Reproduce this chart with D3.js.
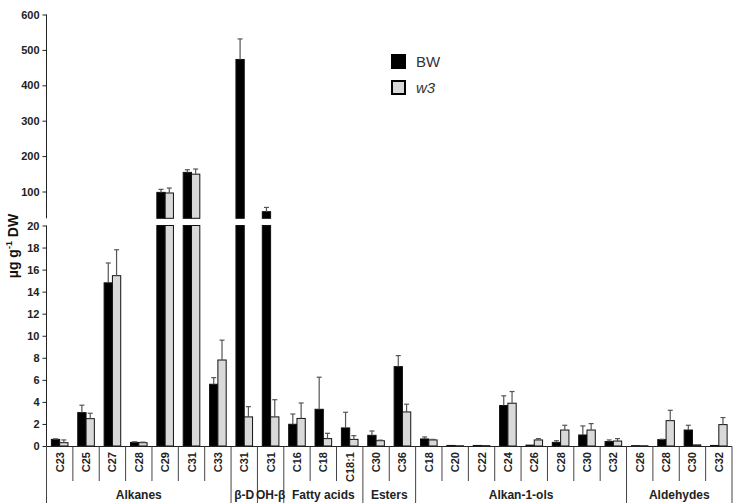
<!DOCTYPE html>
<html><head><meta charset="utf-8">
<script src="https://cdn.jsdelivr.net/npm/d3@7"></script>
<style>body{margin:0;background:#fff}svg{display:block;font-family:"Liberation Sans",Arial,sans-serif}</style>
</head><body><div id="chart"></div>
<script>
// ---- data ----
const categories = ["C23","C25","C27","C28","C29","C31","C33","C31","C31","C16","C18","C18:1","C30","C36","C18","C20","C22","C24","C26","C28","C30","C32","C26","C28","C30","C32"];
const groupNames = ["Alkanes","β-D","OH-β","Fatty acids","Esters","Alkan-1-ols","Aldehydes"];
const groupSizes = [7,1,1,3,2,8,4];
const bwValues = [0.6,3.03,14.8,0.33,97.5,154,5.6,473,43,1.97,3.33,1.64,0.97,7.2,0.64,0.05,0.05,3.67,0.08,0.33,1.0,0.4,0.03,0.58,1.45,0.05];
const bwErr    = [0.05,0.67,1.8,0.05,8.5,7.5,0.6,58,12,0.93,2.91,1.42,0.39,1.0,0.18,0,0,0.88,0,0.15,0.82,0.15,0,0.03,0.43,0];
const w3Values = [0.3,2.48,15.45,0.3,95.8,149,7.8,2.64,2.64,2.5,0.67,0.6,0.48,3.09,0.55,0.02,0.03,3.88,0.55,1.45,1.45,0.45,0.02,2.3,0.1,1.94];
const w3Err    = [0.25,0.49,2.35,0.05,14,14.5,1.8,0.93,1.56,1.4,0.48,0.34,0.05,0.7,0.05,0,0,1.06,0.12,0.43,0.58,0.22,0,0.94,0,0.64];
const seriesNames = ["BW","w3"];
const lowTicks = [0,2,4,6,8,10,12,14,16,18,20];
const highTicks = [100,200,300,400,500,600];

const W = 741, H = 504;
const svg = d3.select("#chart").append("svg").attr("width", W).attr("height", H);

const x = d3.scaleBand().domain(d3.range(categories.length)).range([46.5, 732]).padding(0);
const yLow = d3.scaleLinear().domain([0, 20]).range([446, 225.5]);
const yHigh = d3.scaleLinear().domain([0, 600]).range([226.9, 14.5]);
const highBottom = 218.3;
const bw = x.bandwidth() * 0.315;

// axes
const gLow = svg.append("g").attr("transform", "translate(46.5,0)")
  .call(d3.axisLeft(yLow).tickValues(lowTicks).tickSize(4).tickPadding(3));
const gHigh = svg.append("g").attr("transform", "translate(46.5,0)")
  .call(d3.axisLeft(yHigh).tickValues(highTicks).tickSize(4).tickPadding(3));
gHigh.select(".domain").attr("d", `M0,${yHigh(600)}V${highBottom}`);
gLow.select(".domain").attr("d", `M0,${yLow(20)}V${yLow(0)}`);
[gLow, gHigh].forEach(g => {
  g.selectAll(".domain").attr("stroke", "#222");
  g.selectAll(".tick line").attr("stroke", "#222");
  g.selectAll(".tick text").attr("font-size", 11).attr("font-weight", "bold").attr("fill", "#222");
});

function drawBar(i, v, e, xPos, fill) {
  const g = svg.append("g");
  if (v <= 20) {
    g.append("rect").attr("x", xPos).attr("width", bw).attr("y", yLow(v)).attr("height", yLow(0) - yLow(v))
      .attr("fill", fill).attr("stroke", "#111").attr("stroke-width", 1);
  } else {
    g.append("rect").attr("x", xPos).attr("width", bw).attr("y", yLow(20)).attr("height", yLow(0) - yLow(20))
      .attr("fill", fill).attr("stroke", "#111").attr("stroke-width", 1);
    g.append("rect").attr("x", xPos).attr("width", bw).attr("y", yHigh(v)).attr("height", highBottom - yHigh(v))
      .attr("fill", fill).attr("stroke", "#111").attr("stroke-width", 1);
  }
  if (e > 0.02) {
    const sc = v + e <= 20 ? yLow : yHigh;
    const y0 = v <= 20 ? yLow(v) : yHigh(v);
    const y1 = sc(v + e);
    const cx = xPos + bw / 2;
    g.append("line").attr("x1", cx).attr("x2", cx).attr("y1", y0).attr("y2", y1).attr("stroke", "#555").attr("stroke-width", 1.2);
    g.append("line").attr("x1", cx - 2.5).attr("x2", cx + 2.5).attr("y1", y1).attr("y2", y1).attr("stroke", "#555").attr("stroke-width", 1.2);
  }
}

categories.forEach((c, i) => {
  const cx = x(i) + x.bandwidth() / 2;
  drawBar(i, bwValues[i], bwErr[i], cx - bw, "#000");
  drawBar(i, w3Values[i], w3Err[i], cx, "#d9d9d9");
});

// x axis baseline
svg.append("line").attr("x1", 46.5).attr("x2", 732).attr("y1", 446.5).attr("y2", 446.5).attr("stroke", "#222");

// category separators & labels
const groupEnds = [];
let acc = 0; groupSizes.forEach(s => { acc += s; groupEnds.push(acc); });
for (let i = 0; i <= categories.length; i++) {
  const xx = i < categories.length ? x(i) : x(categories.length - 1) + x.bandwidth();
  const isGroup = i === 0 || groupEnds.includes(i);
  svg.append("line").attr("x1", xx).attr("x2", xx).attr("y1", 446.5).attr("y2", isGroup ? 503 : 481)
    .attr("stroke", "#444").attr("stroke-width", 1);
}
categories.forEach((c, i) => {
  const cx = x(i) + x.bandwidth() / 2 + 4;
  svg.append("text").attr("transform", `translate(${cx},452) rotate(-90)`)
    .attr("text-anchor", "end").attr("font-size", 11).attr("font-weight", "bold").attr("fill", "#222").text(c);
});
let start = 0;
groupNames.forEach((g, k) => {
  const end = start + groupSizes[k];
  const x0 = x(start), x1 = x(end - 1) + x.bandwidth();
  svg.append("text").attr("x", (x0 + x1) / 2).attr("y", 499).attr("text-anchor", "middle")
    .attr("font-size", 12).attr("font-weight", "bold").attr("fill", "#222").text(g);
  start = end;
});

// y title
const yt = svg.append("text").attr("transform", "translate(18,246) rotate(-90)").attr("text-anchor", "middle")
  .attr("font-size", 14).attr("font-weight", "bold").attr("fill", "#111");
yt.append("tspan").text("µg g");
yt.append("tspan").attr("font-size", 9).attr("dy", -6).text("-1");
yt.append("tspan").attr("dy", 6).text(" DW");

// legend
const leg = svg.append("g");
seriesNames.forEach((s, k) => {
  const yy = 55 + k * 26;
  leg.append("rect").attr("x", 392).attr("y", yy).attr("width", 13).attr("height", 13)
    .attr("fill", k === 0 ? "#000" : "#d9d9d9").attr("stroke", "#000").attr("stroke-width", 2);
  leg.append("text").attr("x", 416).attr("y", yy + 12).attr("font-size", 15).attr("fill", "#333")
    .attr("font-style", k === 1 ? "italic" : "normal").text(s);
});
</script></body></html>
